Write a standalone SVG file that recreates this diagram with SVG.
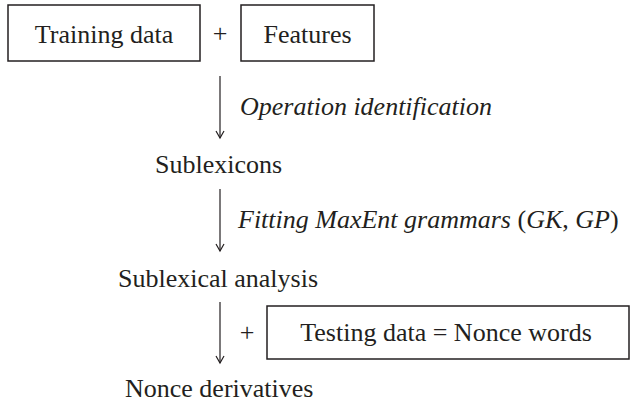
<svg xmlns="http://www.w3.org/2000/svg" width="630" height="405" viewBox="0 0 630 405">
<style>
  .t { font-family: "Liberation Serif", "Times New Roman", serif; font-size: 26px; fill: #231f20; }
  .i { font-style: italic; }
  .box { fill: none; stroke: #231f20; stroke-width: 1.5; }
  .ln { fill: none; stroke: #231f20; stroke-width: 1.2; }
</style>
<defs>
  <marker id="ah" markerUnits="userSpaceOnUse" markerWidth="12" markerHeight="12" refX="10" refY="6" orient="auto" viewBox="0 0 12 12">
    <path d="M3,2 L10,6 L3,10" fill="none" stroke="#231f20" stroke-width="1.2"/>
  </marker>
</defs>
<rect width="630" height="405" fill="#ffffff"/>
<g id="training">
  <rect class="box" x="8" y="5" width="192" height="56"/>
  <text class="t" x="104" y="43" text-anchor="middle">Training data</text>
</g>
<g id="plus1"><text class="t" x="220" y="42" text-anchor="middle">+</text></g>
<g id="features">
  <rect class="box" x="241" y="5" width="133" height="56"/>
  <text class="t" x="307.5" y="43" text-anchor="middle">Features</text>
</g>
<g id="sublexicons"><text class="t" x="155" y="173">Sublexicons</text></g>
<g id="analysis"><text class="t" x="118" y="287">Sublexical analysis</text></g>
<g id="plus2"><text class="t" x="247" y="341" text-anchor="middle">+</text></g>
<g id="testing">
  <rect class="box" x="267" y="306" width="362" height="53"/>
  <text class="t" x="446" y="341" text-anchor="middle">Testing data = Nonce words</text>
</g>
<g id="nonce"><text class="t" x="125" y="397">Nonce derivatives</text></g>
<g id="connectors">
  <line class="ln" x1="220" y1="76" x2="220" y2="138" marker-end="url(#ah)"/>
  <text class="t i" x="240" y="115">Operation identification</text>
  <line class="ln" x1="220" y1="189" x2="220" y2="251" marker-end="url(#ah)"/>
  <text class="t" x="238" y="228"><tspan class="i">Fitting MaxEnt grammars</tspan> (<tspan class="i">GK</tspan>, <tspan class="i">GP</tspan>)</text>
  <line class="ln" x1="220" y1="302" x2="220" y2="363" marker-end="url(#ah)"/>
</g>
</svg>
